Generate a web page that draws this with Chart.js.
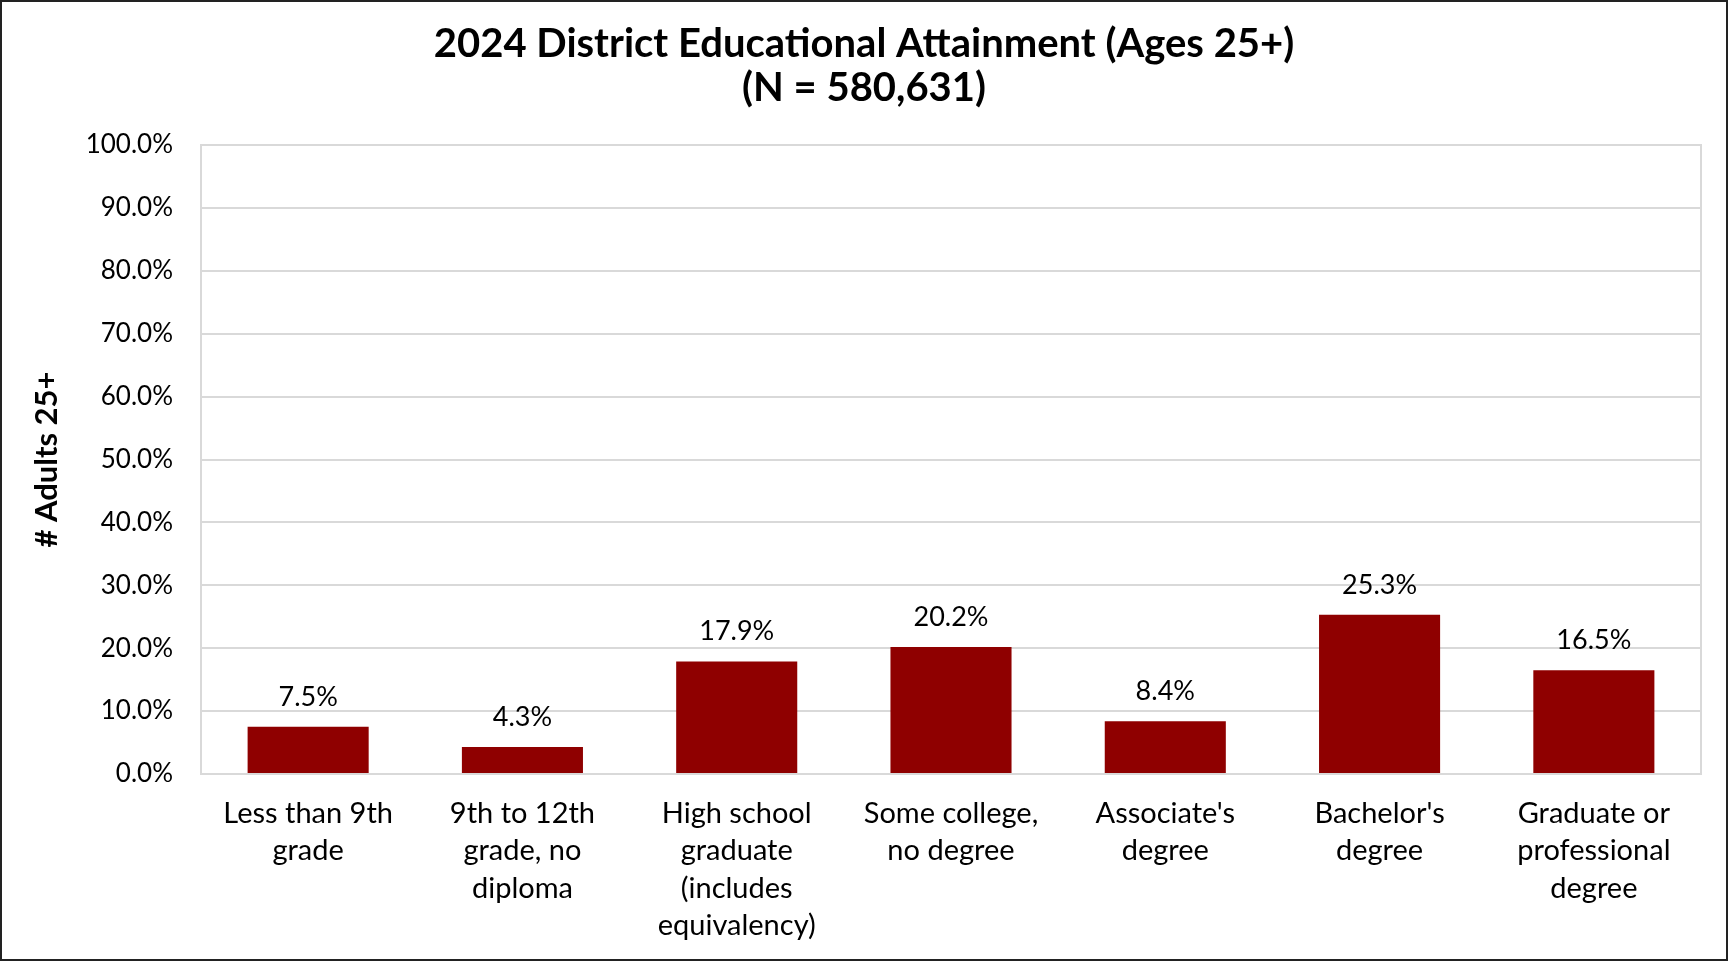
<!DOCTYPE html>
<html>
<head>
<meta charset="utf-8">
<script src="https://cdn.jsdelivr.net/npm/chart.js@4"></script>
<style>
  html, body { margin: 0; padding: 0; background: #fff; }
  #wrap { width: 1728px; height: 961px; position: relative; }
</style>
</head>
<body>
<div id="wrap"><canvas id="chart" width="1728" height="961"></canvas></div>
<script>
// --- DATA ---
const categories = [
    ['Less than 9th', 'grade'],
    ['9th to 12th', 'grade, no', 'diploma'],
    ['High school', 'graduate', '(includes', 'equivalency)'],
    ['Some college,', 'no degree'],
    ["Associate's", 'degree'],
    ["Bachelor's", 'degree'],
    ['Graduate or', 'professional', 'degree']
];
const shares = [7.5, 4.3, 17.9, 20.2, 8.4, 25.3, 16.5];
const yTicks = [0, 10, 20, 30, 40, 50, 60, 70, 80, 90, 100];
const titleLines = ['2024 District Educational Attainment (Ages 25+)', '(N = 580,631)'];
const yTitle = '# Adults 25+';

const barColor = '#8f0000';
const gridColor = '#d9d9d9';
const fontFamily = 'Lato, "Open Sans", sans-serif';

Chart.defaults.font.family = fontFamily;
Chart.defaults.color = '#000';

// white background + outer frame + plot frame
const framePlugin = {
    id: 'frame',
    beforeDraw(chart) {
        const ctx = chart.ctx;
        ctx.save();
        ctx.fillStyle = '#fff';
        ctx.fillRect(0, 0, chart.width, chart.height);
        ctx.restore();
    },
    afterDraw(chart) {
        const ctx = chart.ctx;
        const a = chart.chartArea;
        ctx.save();
        ctx.strokeStyle = gridColor;
        ctx.lineWidth = 2;
        ctx.strokeRect(a.left, a.top, a.right - a.left, a.bottom - a.top);
        ctx.strokeStyle = '#222';
        ctx.lineWidth = 2;
        ctx.strokeRect(1, 1, chart.width - 2, chart.height - 2);
        ctx.restore();
    }
};

// value labels above the bars
const valueLabels = {
    id: 'valueLabels',
    afterDatasetsDraw(chart) {
        const ctx = chart.ctx;
        const meta = chart.getDatasetMeta(0);
        ctx.save();
        ctx.font = '27px ' + fontFamily;
        ctx.fillStyle = '#000';
        ctx.textAlign = 'center';
        ctx.textBaseline = 'middle';
        meta.data.forEach((bar, i) => {
            ctx.fillText(shares[i].toFixed(1) + '%', bar.x, bar.y - 30);
        });
        ctx.restore();
    }
};

new Chart(document.getElementById('chart'), {
    type: 'bar',
    data: {
        labels: categories,
        datasets: [{
            data: shares,
            backgroundColor: barColor,
            borderWidth: 0,
            categoryPercentage: 1,
            barPercentage: 0.565
        }]
    },
    options: {
        responsive: false,
        animation: false,
        layout: { padding: { left: 27, right: 27, top: 0, bottom: 0 } },
        plugins: {
            legend: { display: false },
            tooltip: { enabled: false },
            title: {
                display: true,
                text: titleLines,
                color: '#000',
                font: { size: 40, weight: 'bold', lineHeight: 1.1 },
                padding: { top: 22, bottom: 35 }
            }
        },
        scales: {
            x: {
                grid: { display: false, drawTicks: false },
                border: { display: true, color: gridColor, width: 2 },
                ticks: {
                    color: '#000',
                    font: { size: 29, lineHeight: 1.29 },
                    padding: 21,
                    maxRotation: 0,
                    autoSkip: false
                },
                afterFit(scale) { scale.height = 187; }
            },
            y: {
                min: 0,
                max: 100,
                afterBuildTicks(scale) {
                    scale.ticks = yTicks.map(v => ({ value: v }));
                },
                grid: { color: gridColor, lineWidth: 2, drawTicks: false },
                border: { display: true, color: gridColor, width: 2 },
                ticks: {
                    color: '#000',
                    font: { size: 26 },
                    padding: 28,
                    callback: v => v.toFixed(1) + '%'
                },
                title: {
                    display: true,
                    text: yTitle,
                    color: '#000',
                    font: { size: 31, weight: 'bold' },
                    padding: { top: 1, bottom: 0 }
                },
                afterFit(scale) { scale.width = 174; }
            }
        }
    },
    plugins: [framePlugin, valueLabels]
});
</script>
</body>
</html>
